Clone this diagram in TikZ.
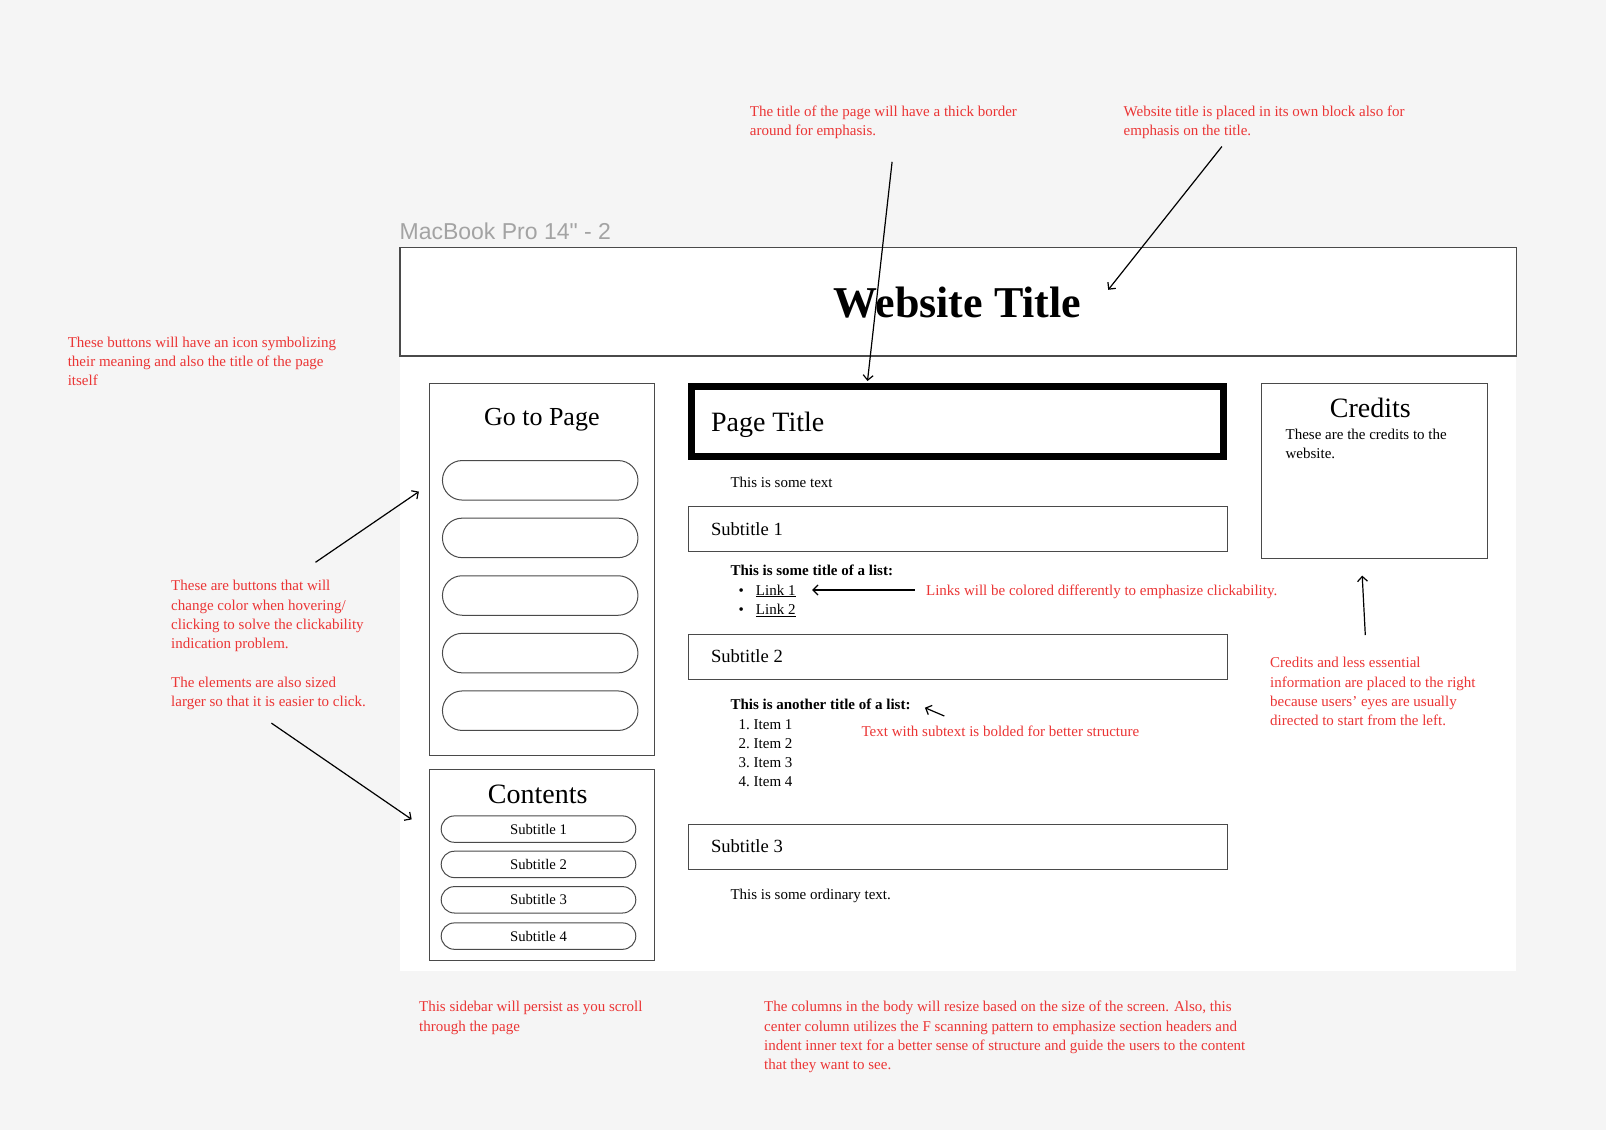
\documentclass[tikz,border=0pt]{standalone}
\usepackage{fontspec}
\setmainfont{Liberation Serif}
\newfontfamily\framefont{Liberation Sans}
\usetikzlibrary{arrows.meta}
\definecolor{canvas}{HTML}{F5F5F5}
\definecolor{note}{HTML}{EB3535}
\definecolor{edge}{HTML}{4A4A4A}
\definecolor{framelabel}{HTML}{A3A3A3}
% left-aligned block of lines whose baseline is that of its first line
\newcommand{\linesblock}[1]{\begin{tabular}[t]{@{}l@{}}#1\end{tabular}}

\begin{document}
\begin{tikzpicture}[x=1pt,y=-1pt,
  box/.style={draw=edge,line width=1.1pt,fill=white,inner sep=0pt,anchor=north west},
  pill/.style={draw=edge,line width=1pt,fill=white,inner sep=0pt,
    minimum width=195.5pt,minimum height=39.5pt,rounded corners=19.7pt},
  smallpill/.style={draw=edge,line width=1pt,fill=white,inner sep=0pt,
    minimum width=194.6pt,minimum height=26.4pt,rounded corners=13.2pt,
    font=\fontsize{14.7}{18}\selectfont},
  body/.style={inner sep=0pt,anchor=base west,font=\fontsize{15}{19.3}\selectfont},
  remark/.style={body,text=note},
  heading/.style={inner sep=0pt,anchor=base,font=\fontsize{27}{32}\selectfont},
  subhead/.style={inner sep=0pt,anchor=base west,font=\fontsize{18.6}{22}\selectfont},
  pointer/.style={line width=1.2pt,-{Straight Barb[length=5pt,width=10pt]}},
]
% canvas
\fill[canvas] (0,0) rectangle (1606,1130);
\useasboundingbox (0,0) rectangle (1606,1130);

% device frame and its name
\node (framename) [inner sep=0pt,anchor=base west,text=framelabel,
  font=\framefont\fontsize{23}{27}\selectfont] at (399.4,239) {MacBook Pro 14" - 2};
\node (frame) [fill=white,inner sep=0pt,anchor=north west,
  minimum width=1116.4pt,minimum height=724.2pt] at (399.4,246.8) {};
\node (titlebar) [draw=edge,line width=1.2pt,fill=white,inner sep=0pt,anchor=north west,
  minimum width=1116.4pt,minimum height=108.6pt] at (399.4,246.8) {};
\node (sitetitle) [inner sep=0pt,anchor=base,font=\bfseries\fontsize{44}{50}\selectfont]
  at (957.6,317.5) {Website Title};

% left sidebar: navigation
\node (gotobox) [box,minimum width=224.5pt,minimum height=372pt] at (429,383) {};
\node (gototitle) [heading,font=\fontsize{26}{30}\selectfont] at (541.8,425) {Go to Page};
\foreach \i in {1,...,5}
  \node (btn\i) [pill] at (540.2,{480.3+57.6*(\i-1)}) {};

% left sidebar: table of contents
\node (contentsbox) [box,minimum width=224.5pt,minimum height=190.7pt] at (429,769) {};
\node (contentstitle) [heading,font=\fontsize{28}{32}\selectfont] at (537.7,803) {Contents};
\node (toc1) [smallpill] at (538.5,829.1) {Subtitle 1};
\node (toc2) [smallpill] at (538.5,864.4) {Subtitle 2};
\node (toc3) [smallpill] at (538.5,899.8) {Subtitle 3};
\node (toc4) [smallpill] at (538.5,936.1) {Subtitle 4};

% centre column
\node (pagetitlebox) [box,draw=black,line width=7pt,minimum width=531.7pt,minimum height=69.9pt]
  at (688.3,383) {};
\node (pagetitle) [subhead,font=\fontsize{28}{32}\selectfont] at (710.8,431) {Page Title};
\node (sometext) [body] at (730.3,487.4) {This is some text};

\node (sub1box) [box,minimum width=538.7pt,minimum height=45pt] at (688.3,506) {};
\node (sub1) [subhead] at (710.8,535.5) {Subtitle 1};
\node (list1title) [body] at (730.3,575.5) {\textbf{This is some title of a list:}};
\node (link1) [body] at (738.5,595) {\textbullet\hspace{12pt}\underline{Link 1}};
\node (link2) [body] at (738.5,614.4) {\textbullet\hspace{12pt}\underline{Link 2}};

\node (sub2box) [box,minimum width=538.7pt,minimum height=45pt] at (688.3,634) {};
\node (sub2) [subhead] at (710.8,662.5) {Subtitle 2};
\node (list2title) [body] at (730.3,709.6) {\textbf{This is another title of a list:}};
\node (items) [body,font=\fontsize{15}{19.1}\selectfont] at (738.5,729.1)
  {\linesblock{1.\ Item 1\\2.\ Item 2\\3.\ Item 3\\4.\ Item 4}};

\node (sub3box) [box,minimum width=538.7pt,minimum height=45pt] at (688.3,823.5) {};
\node (sub3) [subhead] at (710.8,852) {Subtitle 3};
\node (ordinary) [body] at (730.3,899) {This is some ordinary text.};

% right column
\node (creditsbox) [box,minimum width=226.3pt,minimum height=175.2pt] at (1260.8,383) {};
\node (creditstitle) [heading,font=\fontsize{28}{32}\selectfont] at (1370.4,417) {Credits};
\node (creditstext) [body] at (1285.4,439.3) {\linesblock{These are the credits to the\\website.}};

% annotations
\node (noteborder) [remark] at (749.7,116.6)
  {\linesblock{The title of the page will have a thick border\\around for emphasis.}};
\node (noteblock) [remark] at (1123.5,116.6)
  {\linesblock{Website title is placed in its own block also for\\emphasis on the title.}};
\node (noteicons) [remark] at (67.6,347)
  {\linesblock{These buttons will have an icon symbolizing\\their meaning and also the title of the page\\itself}};
\node (notebuttons) [remark] at (171,590.8)
  {\linesblock{These are buttons that will\\change color when hovering/\\clicking to solve the clickability\\indication problem.\\[19.3pt]The elements are also sized\\larger so that it is easier to click.}};
\node (notelinks) [remark] at (925.9,595)
  {Links will be colored differently to emphasize clickability.};
\node (notebold) [remark] at (861.4,736.3)
  {Text with subtext is bolded for better structure};
\node (notecredits) [remark] at (1270,667.7)
  {\linesblock{Credits and less essential\\information are placed to the right\\because users' eyes are usually\\directed to start from the left.}};
\node (notesidebar) [remark] at (418.9,1011.8)
  {\linesblock{This sidebar will persist as you scroll\\through the page}};
\node (notecolumns) [remark] at (764,1011.8)
  {\linesblock{The columns in the body will resize based on the size of the screen. Also, this\\center column utilizes the F scanning pattern to emphasize section headers and\\indent inner text for a better sense of structure and guide the users to the content\\that they want to see.}};

% pointer ends
\coordinate (bordertail) at (892.1,161.8);
\coordinate (borderhead) at (867.5,381);
\coordinate (blocktail) at (1221.9,146.5);
\coordinate (blockhead) at (1108.2,289.8);
\coordinate (buttonstail) at (315.5,562.3);
\coordinate (buttonshead) at (418.9,491.6);
\coordinate (sizetail) at (271.4,723.1);
\coordinate (sizehead) at (411.7,819.4);
\coordinate (linkstail) at (914.6,590);
\coordinate (linkshead) at (812.2,590);
\coordinate (boldtail) at (944.3,716);
\coordinate (boldhead) at (924.9,707.7);
\coordinate (creditstail) at (1365.3,635);
\coordinate (creditshead) at (1362.2,575.6);

\draw[pointer] (bordertail) -- (borderhead);
\draw[pointer] (blocktail) -- (blockhead);
\draw[pointer] (buttonstail) -- (buttonshead);
\draw[pointer] (sizetail) -- (sizehead);
\draw[pointer] (linkstail) -- (linkshead);
\draw[pointer] (boldtail) -- (boldhead);
\draw[pointer] (creditstail) -- (creditshead);
\end{tikzpicture}
\end{document}
